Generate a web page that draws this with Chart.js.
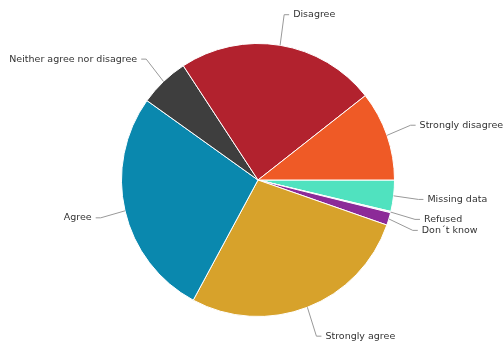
<!DOCTYPE html>
<html>
<head>
<meta charset="utf-8">
<script src="https://cdn.jsdelivr.net/npm/chart.js@4"></script>
<style>
	html, body { margin: 0; padding: 0; background: #fff; }
	#wrap { width: 504px; height: 343px; }
</style>
</head>
<body>
<div id="wrap"><canvas id="chart-pie" width="504" height="343"></canvas></div>
<script>
// Pie data (percent of answers), clockwise from 3 o'clock
// ================================================================================
let labels = ["Missing data", "Refused", "Don\u00b4t know", "Strongly agree",
	"Agree", "Neither agree nor disagree", "Disagree", "Strongly disagree"];
let values = [3.7, 0.15, 1.5, 27.5, 27.0, 5.9, 23.6, 10.6];
let colors = ["#50e2bf", "#e6e6e6", "#8c2a98", "#d7a22b",
	"#0a88ae", "#3e3e3e", "#b2222e", "#ef5a26"];

// Outside labels with bent connector lines
let outside_labels = {
	id: 'outsideLabels',
	afterDraw(chart) {
		let ctx = chart.ctx;
		let meta = chart.getDatasetMeta(0);
		let items = meta.data.map((arc, i) => {
			let mid = (arc.startAngle + arc.endAngle) / 2;
			let r = arc.outerRadius;
			let cos = Math.cos(mid), sin = Math.sin(mid);
			return {
				text: labels[i],
				side: cos >= 0 ? 1 : -1,
				ex: arc.x + r * cos,
				ey: arc.y + r * sin,
				lx: arc.x + (r + 25) * cos,
				ly: arc.y + (r + 31) * sin
			};
		});

		// push apart labels that sit too close on the same side
		[1, -1].forEach(side => {
			let group = items.filter(d => d.side === side).sort((a, b) => a.ly - b.ly);
			for (let k = 1; k < group.length; k++) {
				if (group[k].ly - group[k - 1].ly < 11) group[k].ly = group[k - 1].ly + 11;
			}
		});

		ctx.save();
		ctx.font = '9.5px "DejaVu Sans", Verdana, sans-serif';
		ctx.textBaseline = 'middle';
		items.forEach(d => {
			ctx.strokeStyle = '#999';
			ctx.lineWidth = 1;
			ctx.beginPath();
			ctx.moveTo(d.ex, d.ey);
			ctx.lineTo(d.lx, d.ly);
			ctx.lineTo(d.lx + 5 * d.side, d.ly);
			ctx.stroke();

			ctx.fillStyle = '#333';
			ctx.textAlign = d.side > 0 ? 'left' : 'right';
			ctx.fillText(d.text, d.lx + 9 * d.side, d.ly);
		});
		ctx.restore();
	}
};

new Chart(document.getElementById('chart-pie'), {
	type: 'pie',
	data: {
		labels: labels,
		datasets: [{
			data: values,
			backgroundColor: colors,
			borderColor: '#ffffff',
			borderWidth: 1
		}]
	},
	options: {
		responsive: false,
		animation: false,
		rotation: 90,
		layout: { padding: { left: 121, right: 109, top: 43, bottom: 26 } },
		plugins: {
			legend: { display: false },
			tooltip: { enabled: false }
		}
	},
	plugins: [outside_labels]
});
</script>
</body>
</html>
